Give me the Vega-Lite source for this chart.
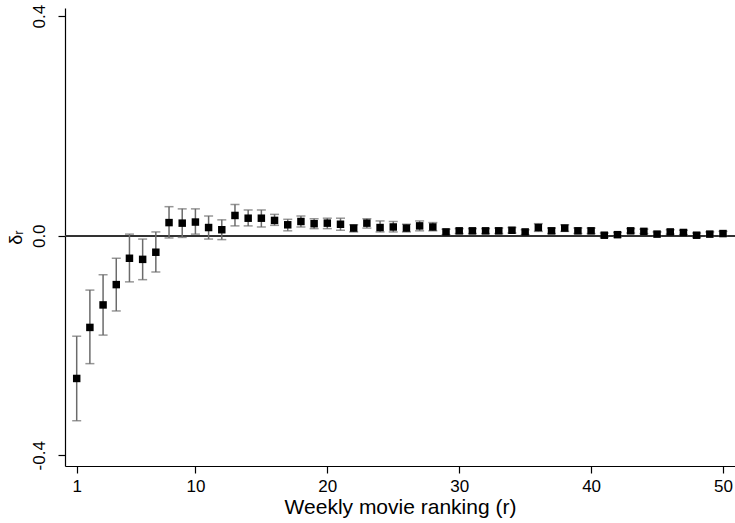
{
  "$schema": "https://vega.github.io/schema/vega-lite/v6.json",
  "width": 670,
  "height": 458,
  "autosize": "none",
  "padding": {"left": 65, "top": 8, "right": 0, "bottom": 57},
  "background": "white",
  "config": {
    "view": {"stroke": null},
    "axis": {
      "grid": false,
      "domainColor": "black",
      "tickColor": "black",
      "labelColor": "black",
      "titleColor": "black",
      "labelFont": "Liberation Sans",
      "titleFont": "Liberation Sans",
      "labelFontSize": 17,
      "titleFontSize": 21,
      "titleFontWeight": "normal",
      "tickSize": 7,
      "domainWidth": 1.2,
      "tickWidth": 1.2
    }
  },
  "data": {
    "values": [
      {"r": 1, "d": -0.260, "lo": -0.337, "hi": -0.183},
      {"r": 2, "d": -0.167, "lo": -0.233, "hi": -0.099},
      {"r": 3, "d": -0.126, "lo": -0.181, "hi": -0.071},
      {"r": 4, "d": -0.089, "lo": -0.137, "hi": -0.041},
      {"r": 5, "d": -0.041, "lo": -0.084, "hi": 0.003},
      {"r": 6, "d": -0.043, "lo": -0.080, "hi": -0.006},
      {"r": 7, "d": -0.030, "lo": -0.066, "hi": 0.007},
      {"r": 8, "d": 0.024, "lo": -0.004, "hi": 0.053},
      {"r": 9, "d": 0.023, "lo": -0.003, "hi": 0.049},
      {"r": 10, "d": 0.025, "lo": 0.003, "hi": 0.049},
      {"r": 11, "d": 0.015, "lo": -0.006, "hi": 0.036},
      {"r": 12, "d": 0.011, "lo": -0.007, "hi": 0.029},
      {"r": 13, "d": 0.037, "lo": 0.018, "hi": 0.057},
      {"r": 14, "d": 0.032, "lo": 0.018, "hi": 0.047},
      {"r": 15, "d": 0.032, "lo": 0.016, "hi": 0.047},
      {"r": 16, "d": 0.028, "lo": 0.019, "hi": 0.039},
      {"r": 17, "d": 0.020, "lo": 0.009, "hi": 0.030},
      {"r": 18, "d": 0.026, "lo": 0.016, "hi": 0.036},
      {"r": 19, "d": 0.022, "lo": 0.013, "hi": 0.031},
      {"r": 20, "d": 0.023, "lo": 0.013, "hi": 0.032},
      {"r": 21, "d": 0.021, "lo": 0.010, "hi": 0.032},
      {"r": 22, "d": 0.014, "lo": 0.007, "hi": 0.020},
      {"r": 23, "d": 0.023, "lo": 0.014, "hi": 0.031},
      {"r": 24, "d": 0.015, "lo": 0.007, "hi": 0.027},
      {"r": 25, "d": 0.016, "lo": 0.007, "hi": 0.026},
      {"r": 26, "d": 0.014, "lo": 0.007, "hi": 0.021},
      {"r": 27, "d": 0.018, "lo": 0.009, "hi": 0.027},
      {"r": 28, "d": 0.016, "lo": 0.009, "hi": 0.024},
      {"r": 29, "d": 0.007, "lo": 0.002, "hi": 0.012},
      {"r": 30, "d": 0.009, "lo": 0.004, "hi": 0.013},
      {"r": 31, "d": 0.009, "lo": 0.004, "hi": 0.013},
      {"r": 32, "d": 0.009, "lo": 0.004, "hi": 0.013},
      {"r": 33, "d": 0.009, "lo": 0.004, "hi": 0.014},
      {"r": 34, "d": 0.010, "lo": 0.005, "hi": 0.015},
      {"r": 35, "d": 0.007, "lo": 0.002, "hi": 0.011},
      {"r": 36, "d": 0.015, "lo": 0.008, "hi": 0.022},
      {"r": 37, "d": 0.009, "lo": 0.004, "hi": 0.014},
      {"r": 38, "d": 0.014, "lo": 0.008, "hi": 0.020},
      {"r": 39, "d": 0.009, "lo": 0.004, "hi": 0.014},
      {"r": 40, "d": 0.009, "lo": 0.004, "hi": 0.014},
      {"r": 41, "d": 0.001, "lo": -0.003, "hi": 0.005},
      {"r": 42, "d": 0.002, "lo": -0.002, "hi": 0.006},
      {"r": 43, "d": 0.009, "lo": 0.005, "hi": 0.013},
      {"r": 44, "d": 0.008, "lo": 0.004, "hi": 0.012},
      {"r": 45, "d": 0.003, "lo": -0.001, "hi": 0.007},
      {"r": 46, "d": 0.007, "lo": 0.003, "hi": 0.011},
      {"r": 47, "d": 0.006, "lo": 0.002, "hi": 0.010},
      {"r": 48, "d": 0.001, "lo": -0.003, "hi": 0.005},
      {"r": 49, "d": 0.003, "lo": -0.001, "hi": 0.007},
      {"r": 50, "d": 0.004, "lo": 0.000, "hi": 0.008}
    ]
  },
  "encoding": {
    "x": {
      "field": "r",
      "type": "quantitative",
      "scale": {"domain": [0.113, 50.91], "nice": false, "zero": false},
      "axis": {"values": [1, 10, 20, 30, 40, 50], "title": "Weekly movie ranking (r)", "labelPadding": 5, "titlePadding": 2}
    }
  },
  "layer": [
    {
      "mark": {"type": "rule", "color": "#333333", "strokeWidth": 1.5},
      "encoding": {
        "y": {"datum": 0, "type": "quantitative", "scale": {"domain": [-0.4195, 0.415], "nice": false, "zero": false}, "axis": {"values": [-0.4, 0, 0.4], "format": ".1f", "labelExpr": "replace(datum.label, '−', '-')", "title": "δᵣ", "titleFontSize": 18, "labelAngle": 270, "labelAlign": "center", "labelBaseline": "bottom", "labelPadding": 10, "titleAngle": 270, "titleX": -40, "titleY": 229, "titleAlign": "center", "titleBaseline": "bottom"}},
        "x": null
      }
    },
    {
      "mark": {"type": "rule", "color": "#6b6b6b", "strokeWidth": 1.5},
      "encoding": {
        "y": {"field": "lo", "type": "quantitative"},
        "y2": {"field": "hi"}
      }
    },
    {
      "mark": {"type": "tick", "orient": "horizontal", "color": "#6b6b6b", "size": 9, "thickness": 1.5},
      "encoding": {"y": {"field": "hi", "type": "quantitative"}}
    },
    {
      "mark": {"type": "tick", "orient": "horizontal", "color": "#6b6b6b", "size": 9, "thickness": 1.5},
      "encoding": {"y": {"field": "lo", "type": "quantitative"}}
    },
    {
      "mark": {"type": "point", "shape": "square", "filled": true, "color": "black", "size": 56, "opacity": 1},
      "encoding": {"y": {"field": "d", "type": "quantitative"}}
    }
  ]
}
